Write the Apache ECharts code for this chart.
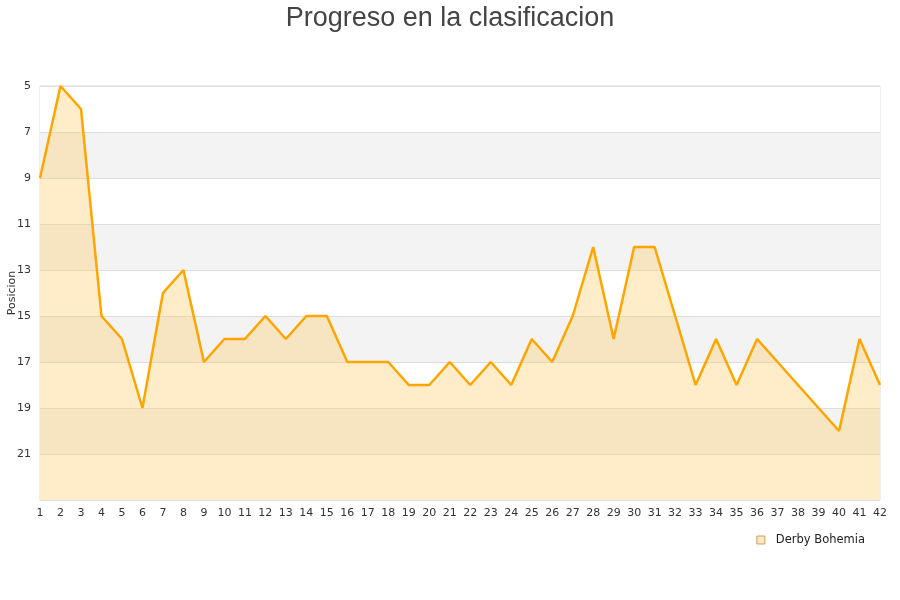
<!DOCTYPE html>
<html><head><meta charset="utf-8">
<script src="https://cdn.jsdelivr.net/npm/echarts@6/dist/echarts.min.js"></script>
<style>html,body{margin:0;padding:0;background:#fff}#c{width:900px;height:600px}</style>
</head><body><div id="c"></div>
<script>
const jornadas = [1,2,3,4,5,6,7,8,9,10,11,12,13,14,15,16,17,18,19,20,21,22,23,24,25,26,27,28,29,30,31,32,33,34,35,36,37,38,39,40,41,42];
const posiciones = [9,5,6,15,16,19,14,13,17,16,16,15,16,15,15,17,17,17,18,18,17,18,17,18,16,17,15,12,16,12,12,15,18,16,18,16,17,18,19,20,16,18];
const serieNombre = 'Derby Bohemia';
const titulo = 'Progreso en la clasificacion';

const chart = echarts.init(document.getElementById('c'));
chart.setOption({
  animation: false,
  title: { text: titulo, left: 'center', top: 0,
    textStyle: { fontFamily: 'Liberation Sans, Arial, sans-serif', fontSize: 27, fontWeight: 'normal', color: '#444' } },
  grid: { left: 40, right: 20, top: 86, bottom: 100, show: true, borderColor: '#ddd', borderWidth: 1,
    backgroundColor: 'transparent', containLabel: false, outerBoundsMode: 'none' },
  legend: { right: 30, top: 529, itemWidth: 8, itemHeight: 8, icon: 'rect',
    textStyle: { fontFamily: 'DejaVu Sans, sans-serif', fontSize: 11.5, color: '#222', padding: [0, 0, 0, 6] },
    data: [{ name: serieNombre, itemStyle: { color: '#fde8c4', borderColor: '#c8a060', borderWidth: 1 } }] },
  xAxis: { type: 'category', data: jornadas, boundaryGap: false,
    axisLine: { show: false }, axisTick: { show: false },
    axisLabel: { fontFamily: 'DejaVu Sans, sans-serif', fontSize: 11, color: '#333', margin: 8, interval: 0 },
    splitLine: { show: false } },
  yAxis: { type: 'value', inverse: true, min: 5, max: 23, interval: 2,
    name: 'Posicion', nameLocation: 'middle', nameGap: 22, nameRotate: 90, nameMoveOverlap: false,
    nameTextStyle: { fontFamily: 'DejaVu Sans, sans-serif', fontSize: 11, color: '#333' },
    axisLine: { show: false }, axisTick: { show: false },
    axisLabel: { fontFamily: 'DejaVu Sans, sans-serif', fontSize: 11, color: '#333', margin: 9,
      formatter: v => v === 23 ? '' : v },
    splitLine: { show: true, lineStyle: { color: '#ddd', width: 1 } },
    splitArea: { show: true, areaStyle: { color: ['#ffffff', '#f3f3f3'] } } },
  series: [{ name: serieNombre, type: 'line', data: posiciones, symbol: 'none',
    lineStyle: { color: '#ffa500', width: 2.5 },
    itemStyle: { color: '#ffa500' },
    areaStyle: { color: 'rgba(255,200,100,0.35)', opacity: 1, origin: 'end' } }]
});
</script></body></html>
